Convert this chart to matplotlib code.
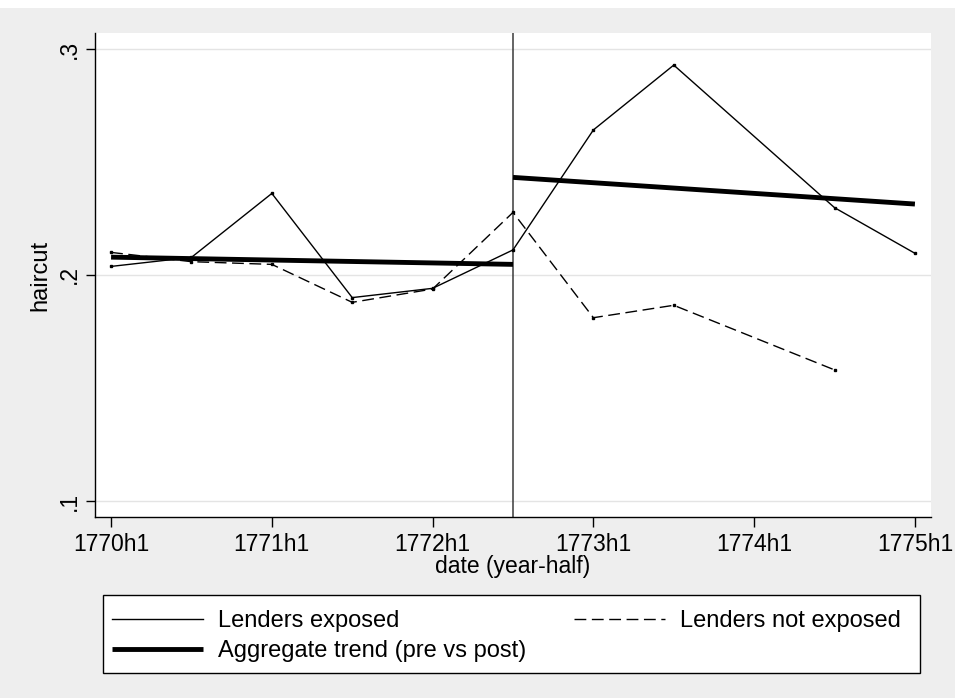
import matplotlib
matplotlib.use("Agg")
import matplotlib.pyplot as plt
from matplotlib.lines import Line2D
from matplotlib.patches import Rectangle

# half-year index: 0 = 1770h1, 1 = 1770h2, ..., 10 = 1775h1
exposed_x = [0, 1, 2, 3, 4, 5, 6, 7, 9, 10]
exposed_y = [0.2038, 0.2078, 0.2361, 0.1900, 0.1941, 0.2111, 0.2642, 0.2929, 0.2298, 0.2096]

not_exposed_x = [0, 1, 2, 3, 4, 5, 6, 7, 9]
not_exposed_y = [0.2100, 0.2059, 0.2047, 0.1879, 0.1938, 0.2277, 0.1811, 0.1866, 0.1580]

trend_pre_x = [0, 5]
trend_pre_y = [0.2079, 0.2047]
trend_post_x = [5, 10]
trend_post_y = [0.2432, 0.2314]

event_x = 5
xtick_pos = [0, 2, 4, 6, 8, 10]
xtick_labels = ["1770h1", "1771h1", "1772h1", "1773h1", "1774h1", "1775h1"]
ytick_pos = [0.1, 0.2, 0.3]
ytick_labels = [".1", ".2", ".3"]

plt.rcParams["font.family"] = ["Liberation Sans", "DejaVu Sans"]

W, H = 955, 698
fig = plt.figure(figsize=(W / 100, H / 100), dpi=100)
fig.patch.set_facecolor("#eeeeee")
fig.patches.append(Rectangle((0, 1 - 8 / H), 1, 8 / H, transform=fig.transFigure,
                             facecolor="white", edgecolor="none", zorder=-5))

ax = fig.add_axes([95 / W, 1 - 517 / H, (931 - 95) / W, (517 - 33) / H])
ax.set_facecolor("white")

dash = (0, (8.5, 4))
ax.plot(exposed_x, exposed_y, color="black", lw=1.0, marker="s", ms=1.6,
        solid_joinstyle="miter", zorder=3)
ax.plot(not_exposed_x, not_exposed_y, color="black", lw=1.0, linestyle=dash,
        marker="s", ms=1.6, zorder=3)
ax.plot(trend_pre_x, trend_pre_y, color="black", lw=3.5, solid_capstyle="butt", zorder=4)
ax.plot(trend_post_x, trend_post_y, color="black", lw=3.5, solid_capstyle="butt", zorder=4)
ax.axvline(event_x, color="#3a3a3a", lw=1.1, zorder=2)

ax.set_xlim(-0.2, 10.2)
ax.set_ylim(0.0929, 0.3071)

ax.set_xticks(xtick_pos)
ax.set_xticklabels(xtick_labels, fontsize=16.5)
ax.set_yticks(ytick_pos)
ax.set_yticklabels(ytick_labels, fontsize=16.5, rotation=90, va="center")
ax.tick_params(axis="x", length=7.2, width=1.0, pad=4, color="black")
ax.tick_params(axis="y", length=6.6, width=1.0, pad=3.6, color="black")

ax.grid(axis="y", color="#e4e4e4", lw=1.0, zorder=0)
ax.set_axisbelow(True)

for side in ("top", "right"):
    ax.spines[side].set_visible(False)
for side in ("left", "bottom"):
    ax.spines[side].set_color("black")
    ax.spines[side].set_linewidth(1.0)

ax.set_ylabel("haircut", fontsize=17, va="center")
ax.yaxis.set_label_coords((40 - 95) / 836, 0.5)
ax.set_xlabel("date (year-half)", fontsize=16.5, va="center")
ax.xaxis.set_label_coords(0.5, (517 - 567) / 484)

# legend frame drawn as a figure-level box
box_l, box_r, box_t, box_b = 103, 920, 595, 673
fig.patches.append(Rectangle((box_l / W, 1 - box_b / H), (box_r - box_l) / W,
                             (box_b - box_t) / H, transform=fig.transFigure,
                             facecolor="white", edgecolor="black", lw=1.0, zorder=1))

handles = [
    Line2D([], [], color="black", lw=1.0),
    Line2D([], [], color="black", lw=3.5, solid_capstyle="butt"),
    Line2D([], [], color="black", lw=1.0, linestyle=dash),
]
labels = ["Lenders exposed", "Aggregate trend (pre vs post)", "Lenders not exposed"]
shift = 2
leg = fig.legend(handles, labels, ncol=2, mode="expand", loc="center",
                 bbox_to_anchor=(box_l / W, 1 - (box_b + shift) / H, (910 - box_l) / W,
                                 (box_b - box_t) / H),
                 fontsize=17, handlelength=3.86, handletextpad=0.64,
                 labelspacing=0.33, borderpad=0.37, borderaxespad=0,
                 frameon=False)

fig.savefig("out.png", dpi=100, facecolor=fig.get_facecolor())
